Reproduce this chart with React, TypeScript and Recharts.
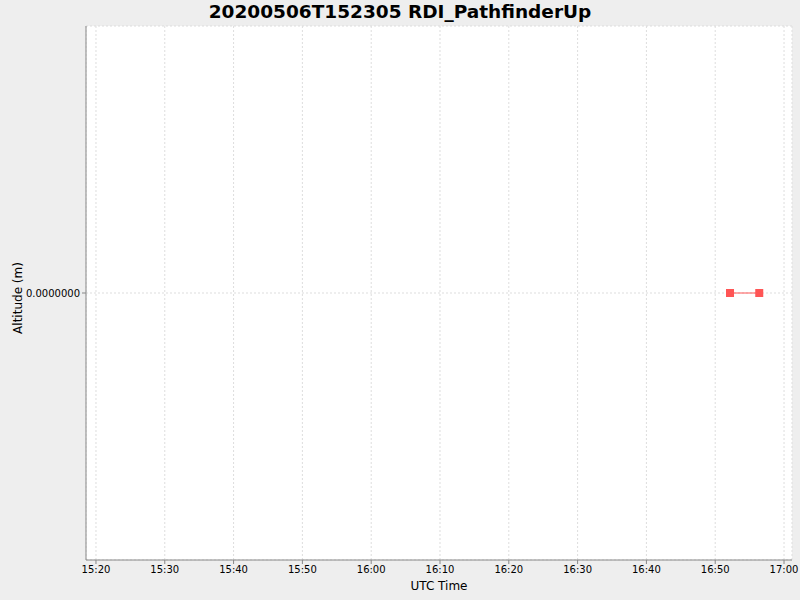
import React from "react"
import { LineChart, Line, XAxis, YAxis, CartesianGrid } from "recharts"

// minutes after midnight (UTC)
const pointTimes = [1012.15, 1016.4]
const altitudes = [0, 0]
const xTicks = [920, 930, 940, 950, 960, 970, 980, 990, 1000, 1010, 1020]
const yTicks = [0]

const data = pointTimes.map((t, i) => ({ t, alt: altitudes[i] }))

const fmtTime = (m: number) => {
  const h = Math.floor(m / 60)
  const mm = Math.round(m - h * 60)
  return `${h}:${String(mm).padStart(2, "0")}`
}

const SquareDot = (props: any) => {
  const { cx, cy } = props
  if (cx == null || cy == null) return null
  return <rect x={cx - 4} y={cy - 4} width={8} height={8} fill="#FF5555" />
}

const font = "'DejaVu Sans', sans-serif"

export default function App() {
  return (
    <div style={{ position: "absolute", left: 0, top: 0, width: 800, height: 600, background: "#EEEEEE", fontFamily: font }}>
      <div style={{ position: "absolute", left: 0, top: 0, width: 800, textAlign: "center", fontSize: 18.5, fontWeight: "bold", lineHeight: "24px" }}>
        20200506T152305 RDI_PathfinderUp
      </div>
      <div style={{ position: "absolute", left: 0, top: 579, width: 878, textAlign: "center", fontSize: 12 }}>
        UTC Time
      </div>
      <div style={{ position: "absolute", left: 18, top: 298, fontSize: 12, transform: "translate(-50%, -50%) rotate(-90deg)", whiteSpace: "nowrap" }}>
        Altitude (m)
      </div>
      <LineChart width={800} height={600} data={data} margin={{ top: 26, right: 8, bottom: 0, left: 0 }}>
        <CartesianGrid xAxisId="b" yAxisId="l" fill="#FFFFFF" stroke="#DDDDDD" strokeDasharray="2 2" />
        <XAxis
          xAxisId="b"
          type="number"
          dataKey="t"
          domain={[918.55, 1021.16]}
          ticks={xTicks}
          tickFormatter={fmtTime}
          allowDataOverflow
          height={40}
          tickSize={4}
          tickMargin={2}
          stroke="#888888"
          tick={{ fill: "#000", fontSize: 10, fontFamily: font }}
        />
        <XAxis xAxisId="t" orientation="top" type="number" dataKey="t" domain={[918.55, 1021.16]} allowDataOverflow height={0} tick={false} tickLine={false} stroke="#AAAAAA" />
        <YAxis
          yAxisId="l"
          type="number"
          domain={[-1, 1]}
          ticks={yTicks}
          tickFormatter={(v: number) => v.toFixed(7)}
          width={86}
          tickSize={4}
          tickMargin={2}
          stroke="#888888"
          tick={{ fill: "#000", fontSize: 10, fontFamily: font }}
        />
        <YAxis yAxisId="r" orientation="right" type="number" domain={[-1, 1]} width={0} tick={false} tickLine={false} stroke="#AAAAAA" />
        <Line
          xAxisId="b"
          yAxisId="l"
          dataKey="alt"
          stroke="#FF5555"
          strokeWidth={1}
          dot={<SquareDot />}
          activeDot={false}
          isAnimationActive={false}
        />
      </LineChart>
    </div>
  )
}
